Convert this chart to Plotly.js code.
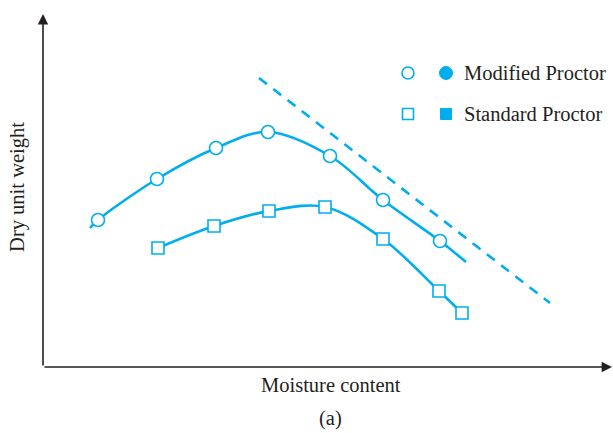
<!DOCTYPE html>
<html>
<head>
<meta charset="utf-8">
<script src="https://cdn.plot.ly/plotly-3.0.1.min.js"></script>
<style>html,body{margin:0;padding:0;background:#fff;}#chart{width:613px;height:433px;}</style>
</head>
<body>
<div id="chart"></div>
<script>
// Schematic values (arbitrary units)
var modMoisture = [55, 114, 173, 225, 287, 340, 397];
var modWeight   = [147, 188, 219, 235, 211, 167, 126];
var modCurveX   = [47, 55, 114, 173, 225, 287, 340, 397, 423];
var modCurveY   = [139, 147, 188, 219, 235, 211, 167, 126, 105];
var stdMoisture = [115, 171, 226, 282, 340, 396, 419];
var stdWeight   = [119, 141, 156, 160, 128, 76, 54];
var zavX = [216, 507];
var zavY = [289, 64];

var C = '#00AEEF';
var serif = 'Liberation Serif, Times New Roman, serif';
var axisCol = '#231f20';

var traces = [
  {x: modCurveX, y: modCurveY, mode: 'lines', line: {color: C, width: 2.6, shape: 'spline', smoothing: 1}, hoverinfo: 'skip'},
  {x: stdMoisture, y: stdWeight, mode: 'lines', line: {color: C, width: 2.6, shape: 'spline', smoothing: 1}, hoverinfo: 'skip'},
  {x: zavX, y: zavY, mode: 'lines', line: {color: C, width: 2.6, dash: '10px,8px'}, hoverinfo: 'skip'},
  {x: modMoisture, y: modWeight, mode: 'markers', marker: {symbol: 'circle', size: 13, color: '#fff', line: {color: C, width: 1.6}}},
  {x: stdMoisture, y: stdWeight, mode: 'markers', marker: {symbol: 'square', size: 12, color: '#fff', line: {color: C, width: 1.6}}}
];

function ann(text, x, y, extra) {
  var a = {text: text, x: x, y: y, xref: 'x', yref: 'y', showarrow: false, font: {family: serif, size: 20.5, color: '#231f20'}};
  for (var k in extra) a[k] = extra[k];
  return a;
}

var layout = {
  width: 613, height: 433,
  margin: {l: 43, r: 0, t: 14, b: 66},
  paper_bgcolor: '#fff', plot_bgcolor: '#fff',
  showlegend: false,
  xaxis: {range: [0, 570], visible: false, fixedrange: true},
  yaxis: {range: [0, 353], visible: false, fixedrange: true},
  shapes: [
    {type: 'circle', xref: 'x', yref: 'y', xsizemode: 'pixel', ysizemode: 'pixel', xanchor: 365, yanchor: 294, x0: -6, x1: 6, y0: -6, y1: 6, line: {color: C, width: 1.6}, fillcolor: '#fff'},
    {type: 'circle', xref: 'x', yref: 'y', xsizemode: 'pixel', ysizemode: 'pixel', xanchor: 403, yanchor: 294, x0: -6.5, x1: 6.5, y0: -6.5, y1: 6.5, line: {color: C, width: 1}, fillcolor: C},
    {type: 'rect', xref: 'x', yref: 'y', xsizemode: 'pixel', ysizemode: 'pixel', xanchor: 365, yanchor: 253, x0: -5.5, x1: 5.5, y0: -5.5, y1: 5.5, line: {color: C, width: 1.6}, fillcolor: '#fff'},
    {type: 'rect', xref: 'x', yref: 'y', xsizemode: 'pixel', ysizemode: 'pixel', xanchor: 403, yanchor: 253, x0: -5.5, x1: 5.5, y0: -5.5, y1: 5.5, line: {color: C, width: 1}, fillcolor: C}
  ],
  annotations: [
    {x: 0, y: 353, ax: 0, ay: 0, xref: 'x', yref: 'y', axref: 'x', ayref: 'y', showarrow: true, arrowhead: 2, arrowsize: 1.3, arrowwidth: 1.6, arrowcolor: axisCol, text: ''},
    {x: 569, y: 0, ax: 0, ay: 0, xref: 'x', yref: 'y', axref: 'x', ayref: 'y', showarrow: true, arrowhead: 2, arrowsize: 1.3, arrowwidth: 1.6, arrowcolor: axisCol, text: ''},
    ann('Modified Proctor', 419, 294, {xanchor: 'left', yanchor: 'middle'}),
    ann('Standard Proctor', 419, 253, {xanchor: 'left', yanchor: 'middle'}),
    ann('Moisture content', 0.505, -0.051, {xref: 'paper', yref: 'paper', xanchor: 'center', yanchor: 'middle'}),
    ann('(a)', 0.505, -0.147, {xref: 'paper', yref: 'paper', xanchor: 'center', yanchor: 'middle'}),
    ann('Dry unit weight', -0.044, 0.51, {xref: 'paper', yref: 'paper', xanchor: 'center', yanchor: 'middle', textangle: -90})
  ]
};

Plotly.newPlot('chart', traces, layout, {staticPlot: true, displayModeBar: false});
</script>
</body>
</html>
